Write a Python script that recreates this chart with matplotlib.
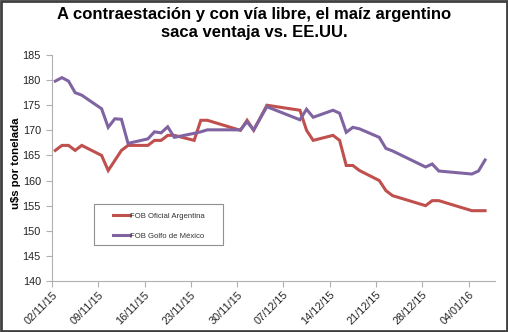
import numpy as np
import pandas as pd
import matplotlib
matplotlib.use('Agg')
import matplotlib.pyplot as plt
import matplotlib.dates as mdates
from matplotlib.patches import Rectangle

plt.rcParams['font.family'] = ['Liberation Sans', 'DejaVu Sans']

# Fechas con dato (días hábiles)
fechas = ['02/11/15', '03/11/15', '04/11/15', '05/11/15', '06/11/15',
          '09/11/15', '10/11/15', '11/11/15', '12/11/15', '13/11/15',
          '16/11/15', '17/11/15', '18/11/15', '19/11/15', '20/11/15',
          '23/11/15', '24/11/15', '25/11/15', '30/11/15', '01/12/15',
          '02/12/15', '04/12/15', '09/12/15', '10/12/15', '11/12/15',
          '14/12/15', '15/12/15', '16/12/15', '17/12/15', '18/12/15',
          '21/12/15', '22/12/15', '23/12/15', '28/12/15', '29/12/15',
          '30/12/15', '04/01/16', '05/01/16', '06/01/16']

fob_argentina = [166, 167, 167, 166, 167,
                 165, 162, 164, 166, 167,
                 167, 168, 168, 169, 169,
                 168, 172, 172, 170, 172,
                 170, 175, 174, 170, 168,
                 169, 168, 163, 163, 162,
                 160, 158, 157, 155, 156,
                 156, 154, 154, 154]

fob_golfo = [179.8, 180.5, 179.8, 177.5, 177.0,
             174.3, 170.6, 172.3, 172.2, 167.4,
             168.3, 169.7, 169.5, 170.7, 168.6,
             169.4, 169.7, 170.1, 170.1, 171.7,
             170.1, 174.7, 172.1, 174.2, 172.6,
             174.0, 173.4, 169.6, 170.6, 170.3,
             168.6, 166.4, 165.9, 162.7, 163.3,
             161.9, 161.3, 161.9, 164.1]

titulo = 'A contraestación y con vía libre, el maíz argentino\nsaca ventaja vs. EE.UU.'
etiqueta_y = 'u$s por tonelada'
series = ['FOB Oficial Argentina', 'FOB Golfo de México']

rojo = '#C0504D'
violeta = '#8064A2'

dias = pd.to_datetime(fechas, format='%d/%m/%y')
# Excel centra cada punto en su día
x = dias + pd.Timedelta(hours=12)

fig = plt.figure(figsize=(5.08, 3.32), dpi=100)
ax = fig.add_axes([52 / 508, 1 - 281 / 332, 443 / 508, 226 / 332])

l1, = ax.plot(x, fob_argentina, color=rojo, lw=2.2, solid_joinstyle='miter')
l2, = ax.plot(x, fob_golfo, color=violeta, lw=2.2, solid_joinstyle='miter')

ax.set_ylim(140, 185)
ax.set_yticks(np.arange(140, 186, 5))
ax.set_xlim(pd.Timestamp('2015-11-02'), pd.Timestamp('2016-01-08'))
semanas = pd.date_range('2015-11-02', '2016-01-04', freq='7D')
ax.set_xticks(semanas)
ax.xaxis.set_major_formatter(mdates.DateFormatter('%d/%m/%y'))

for s in ['top', 'right']:
    ax.spines[s].set_visible(False)
for s in ['left', 'bottom']:
    ax.spines[s].set_color('#B0B0B0')
    ax.spines[s].set_linewidth(0.8)

ax.tick_params(axis='both', colors='#B0B0B0', length=4, width=0.8,
               labelcolor='#222222', labelsize=7.8)
ax.tick_params(axis='y', pad=4)
plt.setp(ax.get_xticklabels(), rotation=45, ha='right', va='top',
         rotation_mode='anchor')
ax.tick_params(axis='x', pad=2)

ax.set_ylabel(etiqueta_y, fontsize=8.2, fontweight='bold')
ax.yaxis.set_label_coords(-0.07, 0.522)

fig.text(0.5, 1 - 24 / 332, titulo, ha='center', va='center',
         fontsize=12, fontweight='bold', linespacing=1.25)

# caja de la leyenda
fig.patches.append(Rectangle((94 / 508, 1 - 245 / 332), 129 / 508, 41 / 332,
                             transform=fig.transFigure, fill=False,
                             edgecolor='#909090', lw=0.8))
fig.legend([l1, l2], series, loc='center left',
           bbox_to_anchor=(113 / 508, 1 - 226 / 332), frameon=False,
           fontsize=5.6, handlelength=2.2, handletextpad=0.0,
           borderpad=0, borderaxespad=0,
           labelspacing=1.6, labelcolor='#333333')

# marco exterior
fig.patches.append(Rectangle((0.002, 0.003), 0.996, 0.994,
                             transform=fig.transFigure, fill=False,
                             edgecolor='#404040', lw=2))

fig.savefig('out.png', dpi=100)
